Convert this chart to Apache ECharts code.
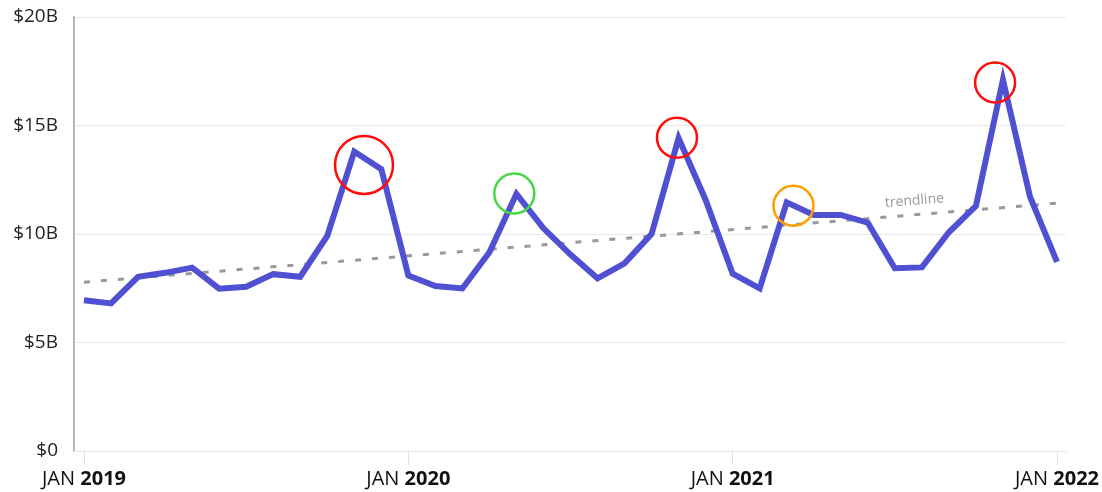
<!DOCTYPE html>
<html>
<head>
<meta charset="utf-8">
<script src="https://cdn.jsdelivr.net/npm/echarts@6/dist/echarts.min.js"></script>
<style>
  html, body { margin: 0; padding: 0; background: #fff; }
  #chart { width: 1102px; height: 492px; }
</style>
</head>
<body>
<div id="chart"></div>
<script>
// monthly values, Jan 2019 .. Jan 2022 (in $B)
var months = [
  '2019-01','2019-02','2019-03','2019-04','2019-05','2019-06','2019-07','2019-08','2019-09','2019-10','2019-11','2019-12',
  '2020-01','2020-02','2020-03','2020-04','2020-05','2020-06','2020-07','2020-08','2020-09','2020-10','2020-11','2020-12',
  '2021-01','2021-02','2021-03','2021-04','2021-05','2021-06','2021-07','2021-08','2021-09','2021-10','2021-11','2021-12',
  '2022-01'
];
var values = [
  6.95, 6.80, 8.03, 8.21, 8.45, 7.48, 7.57, 8.15, 8.03, 9.91, 13.80, 12.99,
  8.09, 7.60, 7.49, 9.16, 11.85, 10.26, 9.05, 7.96, 8.65, 10.00, 14.42, 11.57,
  8.17, 7.49, 11.46, 10.88, 10.88, 10.52, 8.42, 8.46, 10.08, 11.29, 17.11, 11.72,
  8.72
];
// trendline endpoints [month index, value]
var trend = [[0, 7.78], [36, 11.42]];
// highlight circles [month index, value, radius px, colour]
var highlights = [
  [10.36, 13.18, 29, '#ff0d0d'],
  [15.92, 11.87, 20, '#44d944'],
  [21.94, 14.44, 20, '#ff0d0d'],
  [26.25, 11.30, 20, '#ff9d00'],
  [33.71, 16.98, 20, '#ff0d0d']
];
var yTicks = [0, 5, 10, 15, 20];
var xTickIdx = [0, 12, 24, 36];

var font = '"Open Sans", "Noto Sans", sans-serif';
var chart = echarts.init(document.getElementById('chart'));

var lineData = values.map(function (v, i) { return [i, v]; });

var option = {
  backgroundColor: '#fff',
  animation: false,
  grid: { left: 74, right: 36, top: 17, bottom: 41, containLabel: false },
  xAxis: {
    type: 'value',
    min: -0.37,
    max: 36.33,
    splitLine: { show: false },
    axisLine: { show: true, onZero: false, lineStyle: { color: '#e6e6e6', width: 1 } },
    axisTick: {
      show: true, customValues: xTickIdx, length: 14,
      lineStyle: { color: '#e2e2e2', width: 1 }
    },
    axisLabel: {
      customValues: xTickIdx,
      margin: 18,
      fontFamily: font,
      formatter: function (v) {
        var m = months[Math.round(v)];
        return '{n|JAN }{b|' + m.slice(0, 4) + '}';
      },
      rich: {
        n: { fontFamily: font, fontSize: 20, color: '#111', fontWeight: 'normal' },
        b: { fontFamily: font, fontSize: 20, color: '#111', fontWeight: 'bold' }
      }
    }
  },
  yAxis: {
    type: 'value',
    min: 0,
    max: 20,
    interval: 5,
    axisLine: { show: true, onZero: false, lineStyle: { color: '#b8b8b8', width: 2 } },
    axisTick: { show: false },
    splitLine: { show: true, lineStyle: { color: '#e8e8e8', width: 1 } },
    axisLabel: {
      margin: 16,
      fontFamily: font,
      fontSize: 19,
      color: '#222',
      formatter: function (v) { return v === 0 ? '$0' : '$' + v + 'B'; }
    }
  },
  series: [
    {
      type: 'line',
      data: trend,
      symbol: 'none',
      silent: true,
      z: 1,
      lineStyle: { color: '#999', width: 3, type: [6, 11] }
    },
    {
      type: 'line',
      data: lineData,
      symbol: 'none',
      z: 2,
      lineStyle: { color: '#5050d2', width: 6, join: 'miter' }
    },
    {
      type: 'scatter',
      z: 3,
      data: highlights.map(function (h) {
        return {
          value: [h[0], h[1]],
          symbolSize: h[2] * 2,
          itemStyle: { color: 'rgba(0,0,0,0)', borderColor: h[3], borderWidth: 2.5, opacity: 1 }
        };
      }),
      symbol: 'circle',
      silent: true
    }
  ]
};
chart.setOption(option);

// "trendline" label along the dashed line
var p0 = chart.convertToPixel({ gridIndex: 0 }, trend[0]);
var p1 = chart.convertToPixel({ gridIndex: 0 }, trend[1]);
var ang = Math.atan2(p0[1] - p1[1], p1[0] - p0[0]);
var lx = 915;
var ly = p0[1] + (p1[1] - p0[1]) * (lx - p0[0]) / (p1[0] - p0[0]);
chart.setOption({
  graphic: [{
    type: 'text',
    x: lx,
    y: ly - 7,
    rotation: ang,
    style: {
      text: 'trendline',
      fill: '#999',
      font: '14px ' + font,
      textAlign: 'center',
      textVerticalAlign: 'bottom'
    }
  }]
});
</script>
</body>
</html>
